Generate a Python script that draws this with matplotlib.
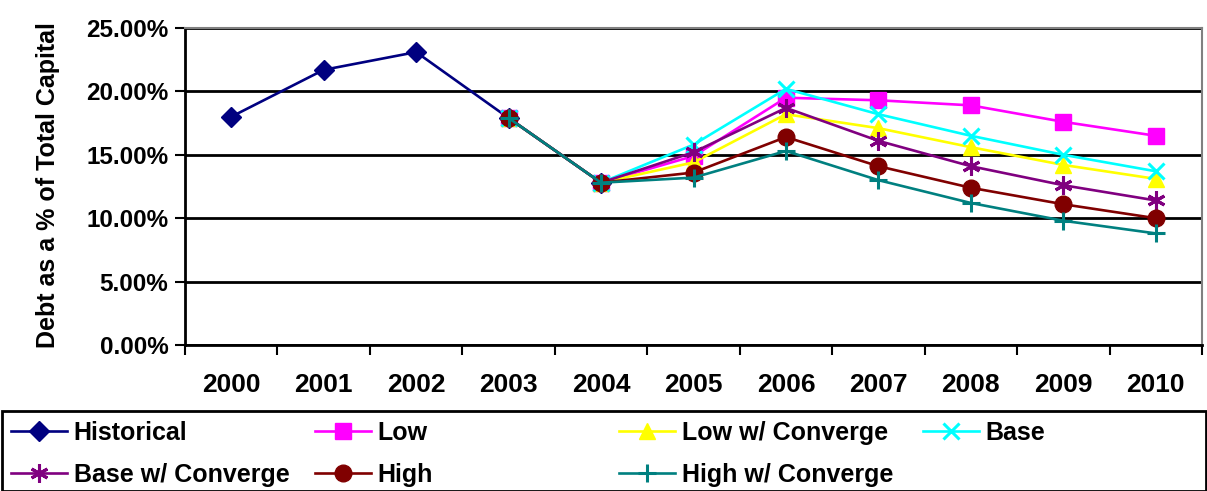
import numpy as np
import matplotlib
matplotlib.use("Agg")
import matplotlib.pyplot as plt
from matplotlib.patches import Rectangle
from matplotlib.ticker import FuncFormatter, FixedLocator

plt.rcParams.update({
    "font.family": ["Liberation Sans", "DejaVu Sans"],
    "font.weight": "bold",
})

# -----------------------------
# Data (percent of total capital)
# -----------------------------
years = ["2000", "2001", "2002", "2003", "2004", "2005",
         "2006", "2007", "2008", "2009", "2010"]

historical = [18.0, 21.7, 23.1, 17.9, 12.8]
low        = [17.9, 12.8, 14.9, 19.5, 19.3, 18.9, 17.6, 16.5]
low_conv   = [17.9, 12.8, 14.4, 18.2, 17.1, 15.6, 14.2, 13.1]
base       = [17.9, 12.8, 15.8, 20.2, 18.2, 16.5, 15.0, 13.7]
base_conv  = [17.9, 12.8, 15.2, 18.7, 16.1, 14.1, 12.6, 11.4]
high       = [17.9, 12.8, 13.6, 16.4, 14.1, 12.4, 11.1, 10.0]
high_conv  = [17.9, 12.8, 13.2, 15.3, 13.0, 11.2,  9.8,  8.8]

names = ["Historical", "Low", "Low w/ Converge", "Base",
         "Base w/ Converge", "High", "High w/ Converge"]

# -----------------------------
# Style
# -----------------------------
COLORS  = ["#000080", "#FF00FF", "#FFFF00", "#00FFFF",
           "#800080", "#800000", "#008080"]
MARKERS = ["D", "s", "^", "x", (6, 2, 0), "o", "+"]
MSIZES  = [10, 11, 12, 12, 13, 12, 13]

W, H = 1207, 491
fig = plt.figure(figsize=(W / 100, H / 100), dpi=100, facecolor="white")

L, R, T, B = 185, 1202, 28, 345
ax = fig.add_axes([L / W, 1 - B / H, (R - L) / W, (B - T) / H])

x = np.arange(len(years))
series = [historical, low, low_conv, base, base_conv, high, high_conv]
starts = [0, 3, 3, 3, 3, 3, 3]

lines = []
for vals, s, c, m, ms, nm in zip(series, starts, COLORS, MARKERS, MSIZES, names):
    xs = x[s:s + len(vals)]
    mew = 2.2 if m in ("x", "+", (6, 2, 0)) else 1.0
    ln, = ax.plot(xs, vals, color=c, lw=1.9, marker=m, markersize=ms,
                  markerfacecolor=c, markeredgecolor=c, markeredgewidth=mew,
                  label=nm, zorder=3)
    lines.append(ln)

ax.set_xlim(-0.5, len(years) - 0.5)
ax.set_ylim(0, 25)

# y axis
ax.yaxis.set_major_locator(FixedLocator([0, 5, 10, 15, 20, 25]))
ax.yaxis.set_major_formatter(FuncFormatter(lambda v, p: f"{v:.2f}%"))
ax.grid(axis="y", color="black", lw=2, zorder=1)
ax.tick_params(axis="y", direction="out", length=7, width=1.5,
               labelsize=17.5, pad=5)
ax.set_ylabel("Debt as a % of Total Capital", fontsize=18,
              fontweight="bold")
ax.yaxis.set_label_coords(48 / W, 1 - 185 / H, transform=fig.transFigure)
ax.yaxis.label.set_va("center")

# x axis: ticks between categories, labels at centers
ax.set_xticks(x)
ax.set_xticklabels(years)
ax.set_xticks(np.arange(-0.5, len(years)), minor=True)
ax.tick_params(axis="x", which="major", length=0, labelsize=19, pad=20)
ax.tick_params(axis="x", which="minor", direction="out", length=7, width=1.5)

for side in ("left", "bottom"):
    ax.spines[side].set_color("black")
    ax.spines[side].set_linewidth(2)
for side in ("top", "right"):
    ax.spines[side].set_color("#808080")
    ax.spines[side].set_linewidth(1.5)

# -----------------------------
# Legend: four equal columns inside one box
# -----------------------------
fig.add_artist(Rectangle((2 / W, 0.5 / H), (W - 3) / W, (H - 411) / H,
                         transform=fig.transFigure, fill=False,
                         edgecolor="black", lw=2))

col_x = [11, 315, 619, 923]
row_y = [433, 475]
slots = [(0, 0), (1, 0), (2, 0), (3, 0), (0, 1), (1, 1), (2, 1)]
for i, (c, r) in enumerate(slots):
    leg = fig.legend([lines[i]], [names[i]], loc="center left",
                     bbox_to_anchor=(col_x[c] / W, 1 - row_y[r] / H),
                     frameon=False, fontsize=18, handlelength=2.25,
                     handletextpad=0.25, borderaxespad=0, borderpad=0)
    for t in leg.get_texts():
        t.set_fontweight("bold")

fig.savefig("out.png", dpi=100, facecolor="white")
